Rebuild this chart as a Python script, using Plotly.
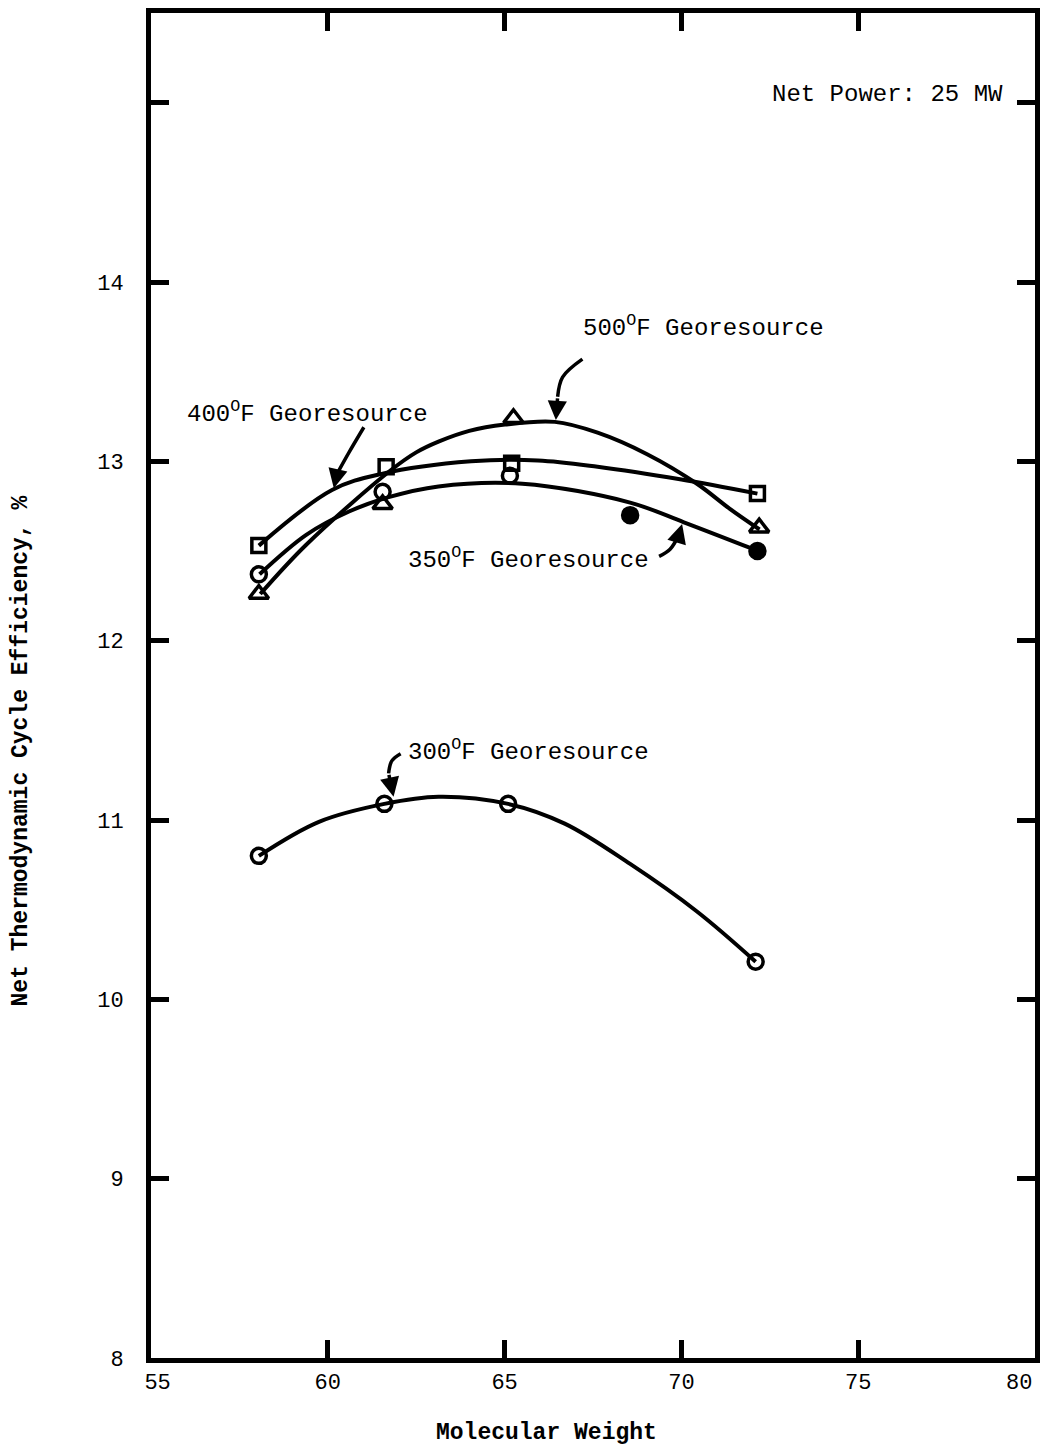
import plotly.graph_objects as go

# ---- data ----
x_300 = [58.05, 61.6, 65.1, 72.1]
y_300 = [10.80, 11.09, 11.09, 10.21]
curve_x_300 = [58.05, 59.75, 61.6, 63.13, 65.1, 66.70, 68.55, 70.44, 72.1]
curve_y_300 = [10.80, 10.99, 11.09, 11.13, 11.09, 10.98, 10.755, 10.49, 10.21]

x_350 = [58.05, 61.55, 65.15, 68.55, 72.15]
y_350 = [12.37, 12.83, 12.92, 12.70, 12.50]
curve_x_350 = [58.07, 59.39, 60.60, 61.72, 63.13, 65.5, 68.55, 70.07, 72.04]
curve_y_350 = [12.37, 12.59, 12.72, 12.80, 12.86, 12.875, 12.77, 12.66, 12.51]

x_400 = [58.05, 61.65, 65.2, 72.15]
y_400 = [12.53, 12.97, 12.99, 12.82]
curve_x_400 = [58.05, 60.12, 61.52, 64.05, 65.94, 67.63, 69.96, 72.15]
curve_y_400 = [12.53, 12.84, 12.93, 13.0, 13.005, 12.97, 12.90, 12.82]

x_500 = [58.05, 61.55, 65.25, 72.2]
y_500 = [12.26, 12.76, 13.24, 12.63]
curve_x_500 = [58.09, 59.39, 61.78, 62.5, 63.13, 64.0, 65.01, 66.42, 67.63, 69.03, 70.44, 71.37, 72.21]
curve_y_500 = [12.26, 12.535, 12.95, 13.05, 13.11, 13.17, 13.205, 13.22, 13.16, 13.04, 12.875, 12.735, 12.62]

x_ticks = [55, 60, 65, 70, 75, 80]
x_ticktext = ["\u00a055", "60", "65", "70", "75", ""]
x_last_label = "80"
y_ticks = [8, 9, 10, 11, 12, 13, 14, 15]
y_ticktext = ["8", "9", "10", "11", "12", "13", "14", ""]

labels = ["500<sup>O</sup>F Georesource", "400<sup>O</sup>F Georesource",
          "350<sup>O</sup>F Georesource", "300<sup>O</sup>F Georesource"]
label_x = [67.15, 55.96, 62.2, 62.2]
label_y = [13.75, 13.27, 12.46, 11.39]

# curved pointer arrows (tail ... head)
arrow_x = [[67.20, 66.64, 66.50, 66.45],
           [61.02, 60.60, 60.26, 60.17],
           [69.37, 69.68, 69.93, 70.02],
           [62.06, 61.81, 61.72, 61.86]]
arrow_y = [[13.57, 13.47, 13.36, 13.23],
           [13.19, 13.05, 12.93, 12.85],
           [12.47, 12.51, 12.59, 12.65],
           [11.37, 11.33, 11.26, 11.13]]

FONT = "Liberation Mono"
fig = go.Figure()

def curve(cx, cy):
    fig.add_trace(go.Scatter(x=cx, y=cy, mode="lines",
                             line=dict(color="black", width=4, shape="spline", smoothing=1.0),
                             hoverinfo="skip", showlegend=False))

for cx, cy in [(curve_x_300, curve_y_300), (curve_x_350, curve_y_350),
               (curve_x_400, curve_y_400), (curve_x_500, curve_y_500)]:
    curve(cx, cy)

fig.add_trace(go.Scatter(x=x_300, y=y_300, mode="markers", showlegend=False,
                         marker=dict(symbol="circle-open", size=15, color="black",
                                     line=dict(width=3.5, color="black"))))
fig.add_trace(go.Scatter(x=x_350, y=y_350, mode="markers", showlegend=False,
                         marker=dict(symbol=["circle-open", "circle-open", "circle-open", "circle", "circle"],
                                     size=15, color="black", line=dict(width=3.5, color="black"))))
fig.add_trace(go.Scatter(x=x_400, y=y_400, mode="markers", showlegend=False,
                         marker=dict(symbol="square-open", size=14, color="black",
                                     line=dict(width=3.5, color="black"))))
fig.add_trace(go.Scatter(x=x_500, y=y_500, mode="markers", showlegend=False,
                         marker=dict(symbol="triangle-up-open", size=17, color="black",
                                     line=dict(width=3.5, color="black"))))

# arrow shafts
for ax_, ay_ in zip(arrow_x, arrow_y):
    fig.add_trace(go.Scatter(x=ax_[:-1], y=ay_[:-1], mode="lines", showlegend=False,
                             hoverinfo="skip",
                             line=dict(color="black", width=3.5, shape="spline")))
    fig.add_annotation(x=ax_[-1], y=ay_[-1], ax=ax_[-2], ay=ay_[-2],
                       xref="x", yref="y", axref="x", ayref="y",
                       showarrow=True, arrowhead=2, arrowsize=1.1, arrowwidth=3.5,
                       arrowcolor="black", text="")

for t, lx, ly in zip(labels, label_x, label_y):
    fig.add_annotation(x=lx, y=ly, xref="x", yref="y", text=t, showarrow=False,
                       xanchor="left", yanchor="middle",
                       font=dict(family=FONT, size=24, color="black"))

fig.add_annotation(x=79.16, y=15.045, xref="x", yref="y", text="Net Power: 25 MW",
                   showarrow=False, xanchor="right", yanchor="middle",
                   font=dict(family=FONT, size=24, color="black"))

# last x tick label, kept inside the page
fig.add_annotation(x=x_ticks[-1], y=0, xref="x", yref="paper", text=x_last_label,
                   showarrow=False, xanchor="center", yanchor="top", xshift=-16, yshift=-11,
                   font=dict(family=FONT, size=22, color="black"))

fig.add_annotation(x=0.447, y=-0.0556, xref="paper", yref="paper", text="<b>Molecular Weight</b>",
                   showarrow=False, xanchor="center", yanchor="middle",
                   font=dict(family=FONT, size=23, color="black"))
fig.add_annotation(x=-0.147, y=0.451, xref="paper", yref="paper",
                   text="<b>Net Thermodynamic Cycle Efficiency, %</b>", textangle=-90,
                   showarrow=False, xanchor="center", yanchor="middle",
                   font=dict(family=FONT, size=23, color="black"))

axis_common = dict(showline=True, linewidth=5, linecolor="black", mirror="ticks",
                   ticks="inside", ticklen=18, tickwidth=5, tickcolor="black",
                   showgrid=False, zeroline=False,
                   tickfont=dict(family=FONT, size=22, color="black"))

fig.update_xaxes(range=[55, 80], tickvals=x_ticks, ticktext=x_ticktext, **axis_common)
fig.update_yaxes(range=[8, 15.5], tickvals=y_ticks, ticktext=y_ticktext,
                 ticklabelstandoff=18, **axis_common)

fig.update_layout(width=1048, height=1451,
                  margin=dict(l=151, r=8, t=10, b=93),
                  paper_bgcolor="white", plot_bgcolor="white",
                  showlegend=False)

fig.write_html("out.html")
